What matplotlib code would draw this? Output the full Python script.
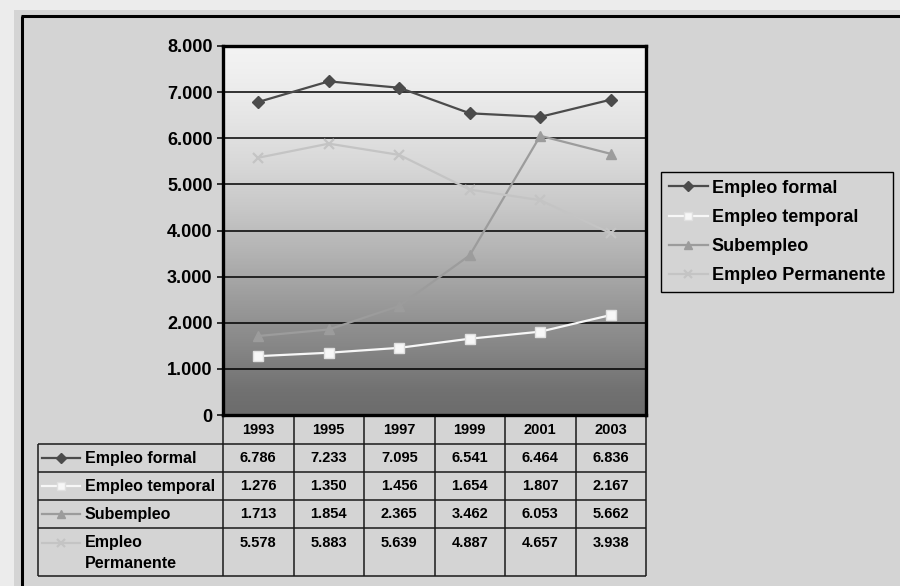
"""
Empleo formal / temporal / subempleo / permanente, 1993-2003
Line chart with a data table underneath, Excel-style grey look
"""
import matplotlib
matplotlib.use('Agg')
import matplotlib.pyplot as plt
from matplotlib.colors import LinearSegmentedColormap
from matplotlib.patches import Rectangle
from matplotlib.lines import Line2D
import numpy as np

plt.rcParams['font.family'] = ['Liberation Sans', 'DejaVu Sans']

years = ['1993', '1995', '1997', '1999', '2001', '2003']
empleo_formal = [6786, 7233, 7095, 6541, 6464, 6836]
empleo_temporal = [1276, 1350, 1456, 1654, 1807, 2167]
subempleo = [1713, 1854, 2365, 3462, 6053, 5662]
empleo_permanente = [5578, 5883, 5639, 4887, 4657, 3938]

series_names = ['Empleo formal', 'Empleo temporal', 'Subempleo', 'Empleo Permanente']
table_names = ['Empleo formal', 'Empleo temporal', 'Subempleo', 'Empleo\nPermanente']
series_values = [empleo_formal, empleo_temporal, subempleo, empleo_permanente]

# line styles per series
styles = [
    dict(color='#4b4b4b', marker='D', mfc='#4b4b4b', mec='#4b4b4b', mew=1, lw=1.6),
    dict(color='#f7f7f7', marker='s', mfc='#f7f7f7', mec='#e0e0e0', mew=1, lw=1.6),
    dict(color='#9c9c9c', marker='^', mfc='#9c9c9c', mec='#9c9c9c', mew=1, lw=1.6),
    dict(color='#c4c4c4', marker='x', mfc='none', mec='#c4c4c4', mew=1.6, lw=1.6),
]
plot_msize = [6.5, 7.5, 7.5, 7.5]


def fmt(v):
    return f"{int(v):,}".replace(',', '.')


W, H = 900, 586
PLOT_L, PLOT_R, PLOT_T, PLOT_B = 223, 646, 46, 415
TAB_L = 38
row_edges = [PLOT_B, 444, 472, 500, 528, 576]

fig = plt.figure(figsize=(W / 100, H / 100), dpi=100)
fig.patch.set_facecolor('#ececec')

# pixel overlay for the frame and the data table
over = fig.add_axes([0, 0, 1, 1], zorder=0)
over.set_xlim(0, W)
over.set_ylim(H, 0)
over.axis('off')
over.add_patch(Rectangle((14, 10), W, H, fc='#d4d4d4', ec='none'))
over.plot([21.5, 21.5], [15.5, H + 5], color='black', lw=2.2, solid_capstyle='butt')
over.plot([20.5, W + 5], [15.5, 15.5], color='black', lw=2.2, solid_capstyle='butt')

# chart area
ax = fig.add_axes([PLOT_L / W, 1 - PLOT_B / H, (PLOT_R - PLOT_L) / W, (PLOT_B - PLOT_T) / H],
                  zorder=2)
x = np.arange(len(years))
ax.set_xlim(-0.5, len(years) - 0.5)
ax.set_ylim(0, 8000)

grad_cmap = LinearSegmentedColormap.from_list(
    'bg', [(0.0, '#6c6c6c'), (0.0625, '#717171'), (0.1875, '#878787'), (0.3125, '#9c9c9c'),
           (0.4375, '#b3b3b3'), (0.5625, '#c8c8c8'), (0.6875, '#d9d9d9'), (0.8125, '#e6e6e6'),
           (0.9375, '#f0f0f0'), (1.0, '#f3f3f3')])
grad = np.linspace(0, 1, 256).reshape(-1, 1)
ax.imshow(grad, extent=[-0.5, len(years) - 0.5, 0, 8000], aspect='auto',
          cmap=grad_cmap, origin='lower', zorder=0)

ax.set_yticks(range(0, 8001, 1000))
ax.set_yticklabels([fmt(v) for v in range(0, 8001, 1000)], fontsize=13, fontweight='bold')
ax.set_xticks([])
ax.yaxis.grid(True, color='black', lw=1.1)
ax.tick_params(axis='y', direction='out', length=4.5, width=1.1, pad=3)
for s in ax.spines.values():
    s.set_linewidth(2.4)
    s.set_color('black')

for vals, st, ms in zip(series_values, styles, plot_msize):
    ax.plot(x, vals, zorder=3, markersize=ms, **st)

# legend with smaller key markers, as in the original
handles = [Line2D([], [], markersize=5.5, **st) for st in styles]
leg = fig.legend(handles, series_names, loc='upper left',
                 bbox_to_anchor=(661 / W, 1 - 172 / H), frameon=True, fancybox=False,
                 edgecolor='black', facecolor='#d4d4d4', framealpha=1,
                 prop={'size': 13, 'weight': 'bold'}, handlelength=2.2,
                 handletextpad=0.2, borderpad=0.42, labelspacing=0.68, borderaxespad=0)
leg.get_frame().set_linewidth(1.0)

# data table below the chart
col_w = (PLOT_R - PLOT_L) / len(years)
col_edges = [PLOT_L + k * col_w for k in range(len(years) + 1)]
tab_kw = dict(color='#1a1a1a', lw=1.1, solid_capstyle='butt')
for xe in col_edges:
    over.plot([xe, xe], [row_edges[0], row_edges[-1]], **tab_kw)
over.plot([TAB_L, TAB_L], [row_edges[1], row_edges[-1]], **tab_kw)
for ye in row_edges[1:]:
    over.plot([TAB_L, PLOT_R], [ye, ye], **tab_kw)

for k, yr in enumerate(years):
    over.text(col_edges[k] + col_w / 2, 430, yr, ha='center', va='center',
              fontsize=10.5, fontweight='bold')

for r, (name, vals, st) in enumerate(zip(table_names, series_values, styles)):
    top, bot = row_edges[r + 1], row_edges[r + 2]
    yc = (top + bot) / 2 if r < 3 else top + 15
    over.plot([42, 80], [yc, yc], color=st['color'], lw=st['lw'])
    over.plot([61], [yc], ls='none', markersize=5.5,
              **{k: v for k, v in st.items() if k not in ('lw',)})
    if r < 3:
        over.text(85, yc, name, ha='left', va='center', fontsize=11.5, fontweight='bold')
    else:
        over.text(85, top + 7, name, ha='left', va='top', fontsize=11.5,
                  fontweight='bold', linespacing=1.5)
    for k, v in enumerate(vals):
        over.text(col_edges[k] + col_w / 2, yc, fmt(v), ha='center', va='center',
                  fontsize=10.5, fontweight='bold')

fig.savefig('out.png', dpi=100, facecolor=fig.get_facecolor())
